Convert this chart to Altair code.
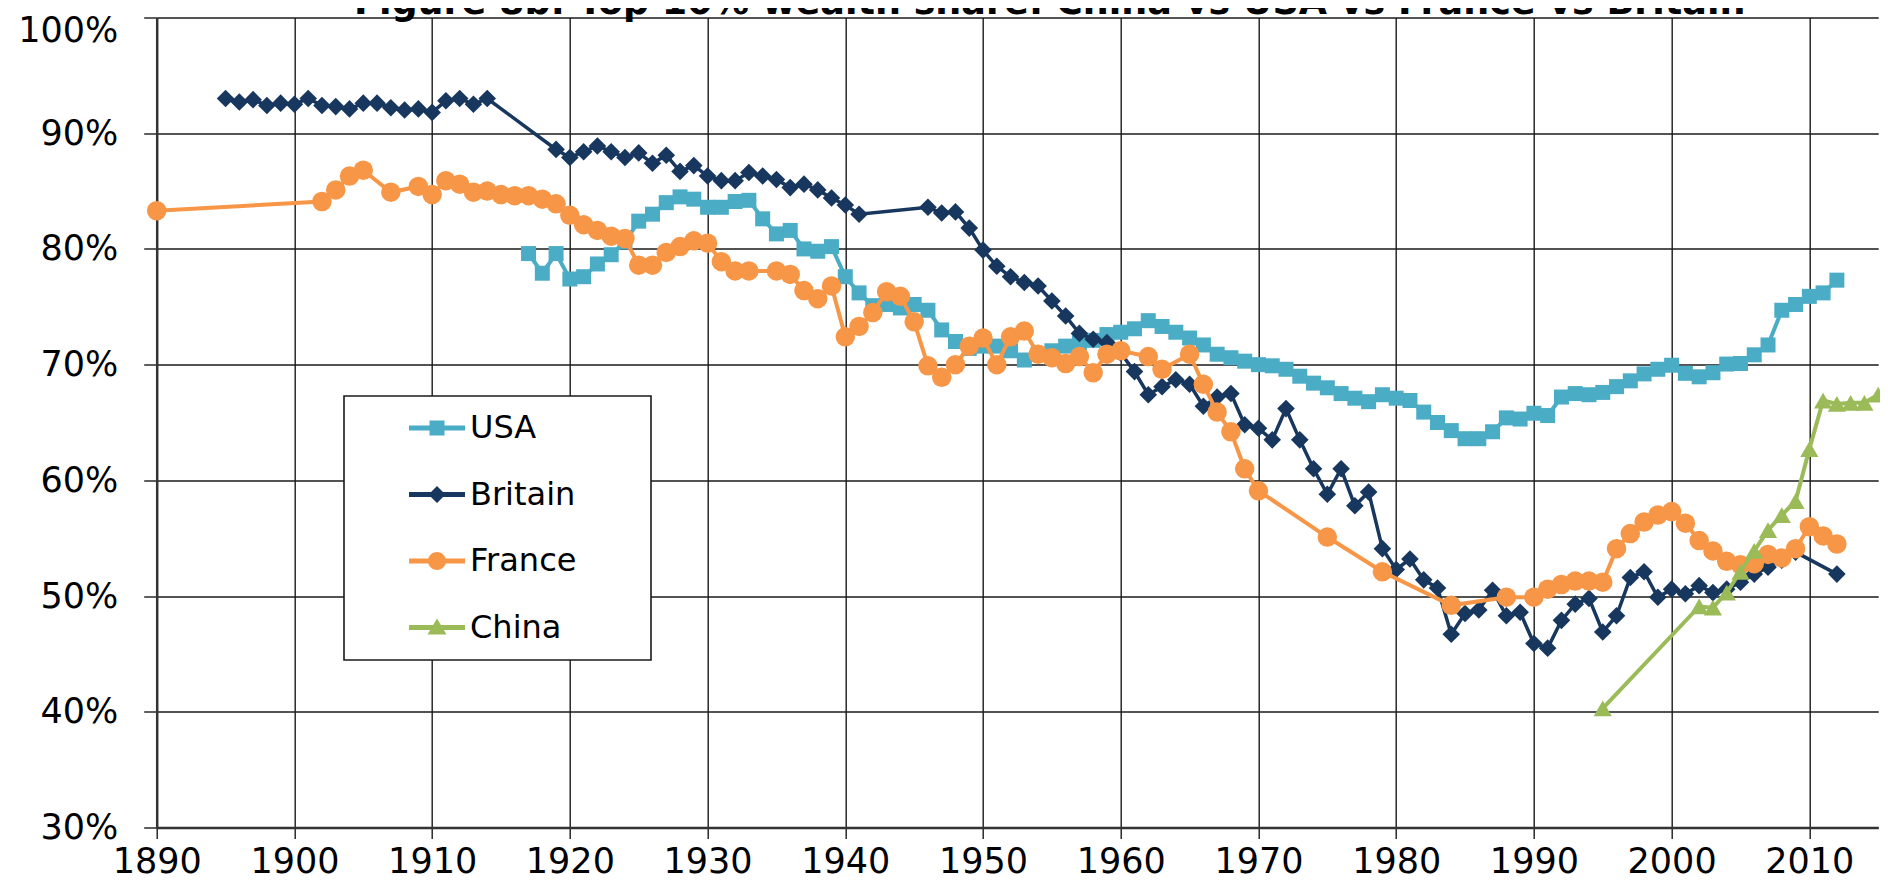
import altair as alt
import pandas as pd

TITLE = "Figure 8b: Top 10% wealth share: China vs USA vs France vs Britain"

series_names = ["USA", "Britain", "France", "China"]
series_colors = ["#4BACC6", "#17375E", "#F79646", "#9BBB59"]

usa_years = list(range(1917, 2013))
usa_vals = [
    79.6, 77.9, 79.6,
    77.4, 77.6, 78.7, 79.5, 80.6, 82.4, 83.0, 84.0, 84.5, 84.3,
    83.6, 83.6, 84.1, 84.2, 82.6, 81.3, 81.6, 80.0, 79.8, 80.2,
    77.6, 76.2, 75.1, 75.2, 74.9, 75.2, 74.7, 73.0, 72.0, 71.4,
    71.6, 71.6, 71.2, 70.4, 70.9, 71.2, 71.6, 71.9, 72.1, 72.6,
    72.8, 73.1, 73.8, 73.3, 72.8, 72.3, 71.7, 70.9, 70.6, 70.3,
    70.0, 69.9, 69.6, 69.0, 68.4, 68.0, 67.5, 67.1, 66.8, 67.4,
    67.1, 66.9, 65.9, 65.0, 64.3, 63.6, 63.6, 64.2, 65.4, 65.3,
    65.8, 65.6, 67.2, 67.5, 67.4, 67.6, 68.1, 68.6, 69.2, 69.6,
    69.95, 69.25, 68.95, 69.3, 70.05, 70.1, 70.85, 71.7, 74.7, 75.2,
    75.9, 76.2, 77.3,
]

britain_years = (list(range(1895, 1915)) + list(range(1919, 1942))
                 + list(range(1946, 2010)) + [2012])
britain_vals = [
    93.0, 92.7, 92.9, 92.4, 92.6, 92.5, 93.0, 92.4, 92.3, 92.1,
    92.6, 92.6, 92.2, 92.0, 92.1, 91.8, 92.8, 93.0, 92.5, 93.0,
    88.6, 87.9, 88.4, 88.9, 88.4, 87.9, 88.3, 87.4, 88.1, 86.7, 87.2,
    86.3, 85.9, 85.9, 86.6, 86.3, 86.0, 85.3, 85.6, 85.1, 84.4, 83.8, 83.0,
    83.6, 83.1, 83.2, 81.8,
    79.9, 78.5, 77.6, 77.1, 76.8, 75.5, 74.2, 72.7, 72.2, 71.9,
    71.0, 69.4, 67.4, 68.1, 68.7, 68.3, 66.4, 67.2, 67.5, 64.8,
    64.5, 63.5, 66.2, 63.5, 61.0, 58.8, 61.0, 57.8, 59.0, 54.1,
    52.3, 53.2, 51.4, 50.7, 46.7, 48.5, 48.8, 50.5, 48.3, 48.6,
    45.9, 45.5, 47.9, 49.3, 49.8, 46.9, 48.3, 51.6, 52.1, 49.9,
    50.6, 50.2, 50.9, 50.3, 50.6, 51.2, 51.9, 52.5, 53.1, 53.8,
    51.9,
]

france_years = [
    1890, 1902, 1903, 1904, 1905, 1907, 1909, 1910, 1911, 1912, 1913, 1914,
    1915, 1916, 1917, 1918, 1919, 1920, 1921, 1922, 1923, 1924, 1925, 1926,
    1927, 1928, 1929, 1930, 1931, 1932, 1933, 1935, 1936, 1937, 1938, 1939,
    1940, 1941, 1942, 1943, 1944, 1945, 1946, 1947, 1948, 1949, 1950, 1951,
    1952, 1953, 1954, 1955, 1956, 1957, 1958, 1959, 1960, 1962, 1963, 1965,
    1966, 1967, 1968, 1969, 1970, 1975, 1979, 1984, 1988, 1990, 1991, 1992,
    1993, 1994, 1995, 1996, 1997, 1998, 1999, 2000, 2001, 2002, 2003, 2004,
    2005, 2006, 2007, 2008, 2009, 2010, 2011, 2012,
]
france_vals = [
    83.3, 84.1, 85.1, 86.3, 86.8, 84.9, 85.4, 84.7, 85.9, 85.6, 84.9, 85.0,
    84.7, 84.6, 84.6, 84.3, 83.9, 82.9, 82.1, 81.6, 81.1, 80.9, 78.6, 78.6,
    79.7, 80.2, 80.7, 80.5, 78.9, 78.1, 78.1, 78.1, 77.8, 76.4, 75.7, 76.8,
    72.4, 73.3, 74.5, 76.3, 75.9, 73.7, 69.9, 68.9, 70.0, 71.6, 72.3, 70.0,
    72.4, 72.9, 70.9, 70.6, 70.1, 70.7, 69.3, 70.9, 71.2, 70.7, 69.6, 70.9,
    68.3, 65.9, 64.2, 61.0, 59.1, 55.1, 52.1, 49.2, 49.9, 49.9, 50.6, 51.0,
    51.3, 51.3, 51.2, 54.1, 55.4, 56.4, 57.0, 57.3, 56.3, 54.8, 53.9, 53.0,
    52.7, 52.8, 53.6, 53.3, 54.1, 56.0, 55.2, 54.5,
]

china_years = [1995, 2002, 2003, 2004, 2005, 2006, 2007, 2008, 2009, 2010,
               2011, 2012, 2013, 2014, 2015]
china_vals = [40.3, 49.1, 49.0, 50.3, 52.1, 53.9, 55.7, 57.0, 58.2, 62.7,
              66.9, 66.6, 66.7, 66.7, 67.4]

x_ticks = list(range(1890, 2011, 10))
y_ticks = list(range(30, 101, 10))

frames = []
for name, yrs, vals in [("USA", usa_years, usa_vals),
                        ("Britain", britain_years, britain_vals),
                        ("France", france_years, france_vals),
                        ("China", china_years, china_vals)]:
    frames.append(pd.DataFrame({"series": name, "year": yrs, "value": vals}))
df = pd.concat(frames, ignore_index=True)

FONT = "DejaVu Sans"

X = alt.X("year:Q",
          scale=alt.Scale(domain=[1890, 2015], nice=False, zero=False),
          axis=alt.Axis(values=x_ticks, format="d", title=None, grid=True,
                        tickSize=11, labelPadding=6, labelFlush=False,
                        labelOverlap=False))
Y = alt.Y("value:Q",
          scale=alt.Scale(domain=[30, 100], nice=False, zero=False),
          axis=alt.Axis(values=y_ticks, labelExpr="datum.value + '%'",
                        title=None, grid=True, tickSize=13, labelPadding=26,
                        labelOffset={"condition": {"test": "datum.value == 100",
                                                   "value": 13},
                                     "value": 0}))

marker_shapes = {"USA": "square", "Britain": "diamond",
                 "France": "circle", "China": "triangle-up"}
marker_sizes = {"USA": 225, "Britain": 310, "France": 380, "China": 330}
line_widths = {"USA": 4, "Britain": 3.5, "France": 4, "China": 4}

layers = []
for name, color in zip(series_names, series_colors):
    base = alt.Chart(df).transform_filter(alt.datum.series == name)
    layers.append(base.mark_line(color=color, strokeWidth=line_widths[name])
                  .encode(x=X, y=Y))
    layers.append(base.mark_point(filled=True, shape=marker_shapes[name],
                                  size=marker_sizes[name], color=color,
                                  opacity=1, strokeWidth=0)
                  .encode(x=X, y=Y))

# legend symbols: line + marker (pixel units); the extra move-to point
# widens the legend box to the right
EXT = "M0,-16M198,16"
LINE = "M-28,-2.5H28V2.5H-28Z"
legend_paths = [
    EXT + LINE + "M-7.5,-7.5H7.5V7.5H-7.5Z",
    EXT + LINE + "M0,-8.5L8.5,0L0,8.5L-8.5,0Z",
    EXT + LINE + "M-9,0A9,9,0,1,1,9,0A9,9,0,1,1,-9,0Z",
    EXT + LINE + "M0,-9L9.5,7H-9.5Z",
]

leg = alt.Legend(title=None, orient="none", legendX=187.3, legendY=378.5,
                 padding=16, strokeColor="#1a1a1a", fillColor="white",
                 symbolSize=4, symbolOffset=61, labelOffset=17,
                 rowPadding=34.5, labelFont=FONT, labelFontSize=32,
                 labelColor="black", labelLimit=0, symbolStrokeWidth=0,
                 labelBaseline="middle")

legend_layer = (alt.Chart(df).transform_filter("false")
                .mark_point(filled=True, opacity=1, size=4)
                .encode(x=X, y=Y,
                        color=alt.Color("series:N",
                                        scale=alt.Scale(domain=series_names,
                                                        range=series_colors),
                                        legend=leg),
                        shape=alt.Shape("series:N",
                                        scale=alt.Scale(domain=series_names,
                                                        range=legend_paths),
                                        legend=leg)))

title_layer = (alt.Chart(pd.DataFrame({"text": [TITLE]}))
               .mark_text(font=FONT, fontSize=36.5, fontWeight="bold",
                          align="center", baseline="alphabetic",
                          color="black")
               .encode(text="text:N", x=alt.value(893), y=alt.value(-4)))

chart = (alt.layer(*layers, legend_layer, title_layer)
         .properties(width=1721.5, height=810,
                     autosize=alt.AutoSizeParams(type="none"),
                     padding={"left": 148.7, "top": 9.5, "right": 1.8,
                              "bottom": 52.5})
         .configure_view(stroke=None)
         .configure_axis(labelFont=FONT, labelFontSize=35, labelColor="black",
                         gridColor="#1a1a1a", gridWidth=1.4,
                         tickColor="#1a1a1a", tickWidth=1.4,
                         domainColor="#333333", domainWidth=2.5)
         .configure_legend(strokeWidth=1.6))

chart.save("out.html", embed_options={"renderer": "svg", "actions": False})
